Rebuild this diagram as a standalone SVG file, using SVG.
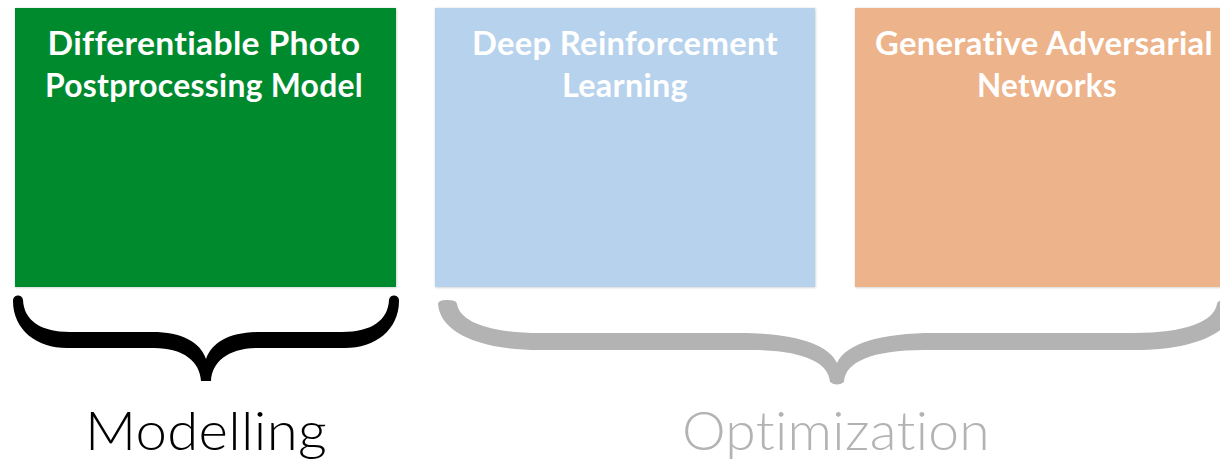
<svg xmlns="http://www.w3.org/2000/svg" width="1220" height="467" viewBox="0 0 1220 467">
  <defs>
    <filter id="soft" x="-5%" y="-5%" width="110%" height="110%">
      <feDropShadow dx="0.5" dy="0.5" stdDeviation="0.8" flood-color="#000" flood-opacity="0.22"/>
    </filter>
  </defs>
  <style>
    /* a small letter-spacing keeps t and i as separate glyphs */
    text { font-variant-ligatures: none; font-feature-settings: "liga" 0, "dlig" 0, "calt" 0; letter-spacing: 0.3px; }
    .box { filter: url(#soft); }
    .title { font-family: "Lato", "Open Sans", "Liberation Sans", sans-serif; font-weight: 700; font-size: 32px; fill: #ffffff; text-anchor: middle; }
    .label { font-family: "Lato", "Open Sans", "Liberation Sans", sans-serif; font-weight: 300; font-size: 54px; }
  </style>

  <rect width="1220" height="467" fill="#ffffff"/>

  <!-- Modelling stage -->
  <g id="node-photo-model">
    <rect class="box" x="15" y="8" width="381" height="279" fill="#048A2E"/>
    <text class="title" x="204" y="55" textLength="313" lengthAdjust="spacingAndGlyphs">Differentiable Photo</text>
    <text class="title" x="204" y="97" textLength="318" lengthAdjust="spacingAndGlyphs">Postprocessing Model</text>
  </g>

  <!-- Optimization stage -->
  <g id="node-drl">
    <rect class="box" x="435" y="8" width="380" height="279" fill="#B7D2EC"/>
    <text class="title" x="625" y="55" textLength="306" lengthAdjust="spacingAndGlyphs">Deep Reinforcement</text>
    <text class="title" x="625" y="97" textLength="126" lengthAdjust="spacingAndGlyphs">Learning</text>
  </g>

  <g id="node-gan">
    <rect class="box" x="855" y="8" width="380" height="279" fill="#EDB38A"/>
    <text class="title" x="1044" y="55" textLength="338" lengthAdjust="spacingAndGlyphs">Generative Adversarial</text>
    <text class="title" x="1047" y="97" textLength="140" lengthAdjust="spacingAndGlyphs">Networks</text>
  </g>

  <!-- grouping braces -->
  <g id="connectors">
    <path id="brace-modelling" fill="#000000" d="
      M 13 301 A 5 5 0 0 1 23 300
      C 24 320, 40 332, 70 332
      L 152 332
      C 182 332, 200 342, 206 359
      C 212 342, 230 332, 260 332
      L 342 332
      C 372 332, 388 320, 389 300
      A 5 5 0 0 1 399 301
      C 399 330, 375 348, 345 348
      L 258 348
      C 228 348, 212 362, 211 381
      L 201 381
      C 200 362, 184 348, 154 348
      L 67 348
      C 37 348, 13 330, 13 301 Z"/>
    <path id="brace-optimization" fill="#B3B3B3" d="
      M 438 304
      Q 438 300 447 300 Q 457 300 457 304
      C 460 322, 490 333, 540 333
      L 740 333
      C 792 333, 828 343, 837 363
      C 846 343, 882 333, 934 333
      L 1134 333
      C 1184 333, 1214 322, 1217 304
      Q 1217 300 1227 300 Q 1236 300 1236 304
      C 1234 330, 1200 350, 1134 350
      L 924 350
      C 872 350, 845 362, 844 382
      Q 837 387 830 382
      C 829 362, 802 350, 750 350
      L 540 350
      C 474 350, 440 330, 438 304 Z"/>
  </g>

  <!-- stage labels -->
  <text class="label" x="85" y="450" fill="#000000" textLength="242" lengthAdjust="spacingAndGlyphs">Modelling</text>
  <text class="label" x="682" y="450" fill="#B3B3B3" textLength="308" lengthAdjust="spacingAndGlyphs">Optimization</text>
</svg>
